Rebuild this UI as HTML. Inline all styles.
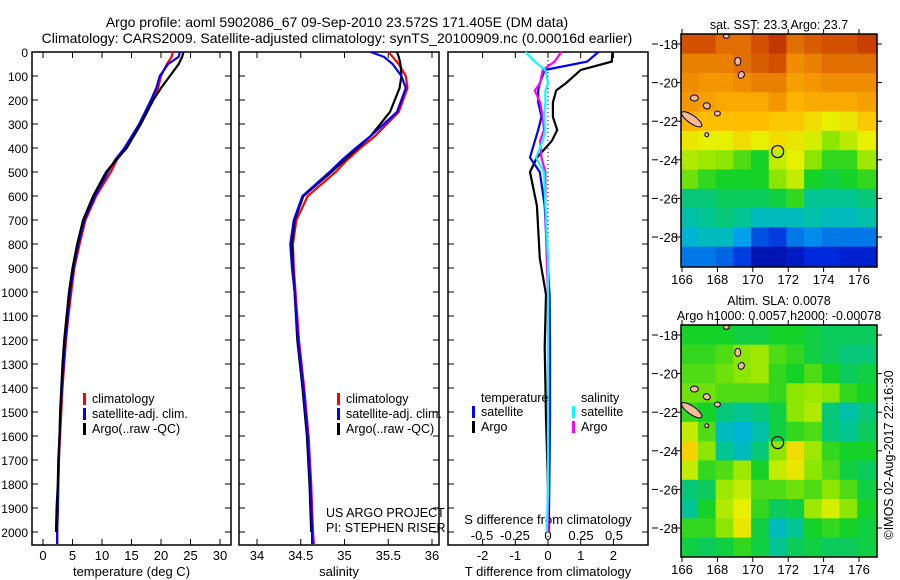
<!DOCTYPE html>
<html><head><meta charset="utf-8">
<style>
html,body{margin:0;padding:0;background:#fff;}
svg{display:block;font-family:"Liberation Sans",sans-serif;}
text{fill:#000;}
</style></head>
<body>
<svg id="chart" width="900" height="580" viewBox="0 0 900 580" xmlns="http://www.w3.org/2000/svg">
<rect width="900" height="580" fill="#fff"/>
<text x="337" y="27" font-size="14" text-anchor="middle">Argo profile: aoml 5902086_67 09-Sep-2010 23.572S 171.405E (DM data)</text>
<text x="337" y="43" font-size="14" text-anchor="middle">Climatology: CARS2009. Satellite-adjusted climatology: synTS_20100909.nc (0.00016d earlier)</text>
<g id="g"></g>
</svg>
<script>
// ---- data ----
const depthT = [0,20,50,100,150,200,300,400,450,500,600,700,800,900,1000,1100,1200,1300,1400,1500,1600,1700,1800,1900,2000,2050];
const tempClim = [22,21.8,21,20,19.5,18.5,16.5,14,12.5,11.5,9,7.2,6.2,5.3,4.8,4.3,3.9,3.6,3.3,3.1,2.9,2.7,2.6,2.5,2.4,2.4];
const tempSat = [23.2,23,21.2,19.8,19.2,18.3,16.3,13.8,12.2,11,8.8,7,6,5.2,4.6,4.2,3.8,3.5,3.2,3,2.8,2.7,2.6,2.5,2.4,2.4];
const tempArgo = [23.8,23.6,23,21.5,20,18.7,16.6,14.2,12.4,10.7,8.5,6.8,5.8,5,4.4,4.0,3.6,3.3,3.1,2.9,2.8,2.6,2.5,2.3,2.2,2.2];
const depthS = [0,20,50,100,150,250,350,400,450,500,600,700,800,900,1000,1200,1400,1600,1800,2000,2050];
const salClim = [35.5,35.55,35.62,35.7,35.72,35.62,35.35,35.18,35.03,34.9,34.58,34.45,34.41,34.42,34.44,34.48,34.54,34.59,34.62,34.64,34.65];
const salSat = [35.3,35.45,35.55,35.65,35.7,35.6,35.3,35.13,34.97,34.83,34.52,34.42,34.38,34.4,34.43,34.47,34.53,34.58,34.61,34.63,34.63];
const salArgo = [35.6,35.62,35.64,35.65,35.63,35.52,35.3,35.15,35.0,34.85,34.53,34.43,34.4,34.41,34.43,34.46,34.52,34.57,34.6,34.62,34.62];
const depthD = [0,40,75,130,160,210,270,325,370,440,500,640,860,1010,1230,1520,1815,2000];
const dTArgo = [1.97,1.95,1.0,0.55,0.25,0.15,0.15,0.28,0.12,-0.34,-0.55,-0.34,-0.25,-0.06,-0.1,-0.06,0,0];
const dTSat = [1.54,1.2,-0.1,-0.25,-0.3,-0.3,-0.2,-0.3,-0.4,-0.55,-0.25,-0.1,-0.02,0.05,0.06,0.06,0.04,0.02];
const dSArgo = [0.1,0.05,-0.04,-0.06,-0.1,-0.06,-0.04,-0.03,-0.06,-0.05,-0.02,-0.02,-0.01,0,0,0,0,0];
const dSSat = [-0.17,-0.1,-0.02,0,-0.02,-0.02,-0.03,-0.02,-0.04,-0.09,-0.03,-0.02,0,0,0,0,0,-0.01];
const depthTicks = [0,100,200,300,400,500,600,700,800,900,1000,1100,1200,1300,1400,1500,1600,1700,1800,1900,2000];
const tempTicks = [0,5,10,15,20,25,30];
const salTicks = [34,34.5,35,35.5,36];
const dTTicks = [-2,-1,0,1,2];
const dSTicks = [-0.5,-0.25,0,0.25,0.5];
const dSLabels = ["-0.5","-0.25","0","0.25","0.5"];
const lonTicks = [166,168,170,172,174,176];
const latTicks = [-18,-20,-22,-24,-26,-28];
const sstGrid = [
[.9,.9,.85,.85,.9,.93,.85,.88,.9,.9,.92],
[.82,.82,.82,.85,.88,.9,.8,.82,.85,.85,.85],
[.8,.78,.78,.8,.82,.82,.76,.78,.8,.8,.8],
[.78,.76,.74,.74,.74,.78,.72,.74,.74,.74,.76],
[.72,.7,.7,.7,.7,.68,.68,.64,.6,.62,.68],
[.62,.6,.6,.64,.6,.64,.62,.58,.5,.55,.6],
[.54,.52,.5,.46,.42,.56,.6,.5,.44,.44,.52],
[.48,.44,.42,.42,.42,.5,.56,.42,.4,.42,.44],
[.36,.36,.38,.38,.38,.4,.44,.34,.34,.34,.36],
[.32,.34,.36,.34,.3,.3,.3,.32,.3,.3,.32],
[.28,.3,.3,.24,.16,.14,.2,.22,.2,.2,.2],
[.2,.2,.18,.14,.06,.06,.08,.12,.12,.1,.1]];
const slaGrid = [
[.42,.42,.42,.4,.4,.42,.42,.4,.38,.38,.38],
[.44,.44,.46,.5,.52,.46,.44,.4,.38,.36,.36],
[.46,.46,.48,.5,.52,.44,.42,.46,.42,.38,.4],
[.48,.48,.46,.46,.46,.44,.5,.52,.5,.44,.42],
[.44,.42,.36,.34,.36,.4,.5,.54,.36,.32,.36],
[.56,.46,.3,.28,.32,.4,.44,.46,.36,.34,.38],
[.66,.5,.34,.3,.36,.5,.64,.52,.44,.42,.42],
[.56,.44,.46,.52,.42,.56,.62,.5,.46,.4,.38],
[.36,.38,.52,.56,.46,.46,.48,.46,.5,.46,.4],
[.34,.42,.54,.6,.44,.38,.4,.52,.58,.5,.42],
[.44,.44,.5,.62,.4,.3,.34,.42,.44,.42,.4],
[.4,.38,.4,.44,.4,.34,.38,.4,.38,.38,.4]];
const argoLon = 171.405, argoLat = -23.572;

// ---- helpers ----
const NS="http://www.w3.org/2000/svg";
const G=document.getElementById('g');
function el(tag,attrs,parent){const e=document.createElementNS(NS,tag);for(const k in attrs)e.setAttribute(k,attrs[k]);(parent||G).appendChild(e);return e;}
function txt(s,x,y,size,anchor,parent){const t=el('text',{x:x,y:y,'font-size':size,'text-anchor':anchor||'middle'},parent);t.textContent=s;return t;}
const yD = d => 52 + d*0.24;
const PT=52,PB=545;
function panel(name,x0,x1,xs,ticks,labels,xlabel){
  const g=el('g',{});
  
  
  const r=el('rect',{x:x0,y:PT,width:x1-x0,height:PB-PT,fill:'none',stroke:'#000','stroke-width':1.5},g);
  
  
  depthTicks.forEach(d=>{el('line',{x1:x0,x2:x0+6,y1:yD(d),y2:yD(d),stroke:'#000'},g);el('line',{x1:x1-6,x2:x1,y1:yD(d),y2:yD(d),stroke:'#000'},g);});
  ticks.forEach((v,i)=>{const x=xs(v);el('line',{x1:x,x2:x,y1:PB,y2:PB-6,stroke:'#000'},g);el('line',{x1:x,x2:x,y1:PT,y2:PT+6,stroke:'#000'},g);
    const t=txt(labels?labels[i]:String(v),x,560,13,'middle',g);
    
    });
  const xl=txt(xlabel,(x0+x1)/2,576,13,'middle',g);
  
  
  return g;
}
function line(name,depths,vals,xs,color,g,w){
  const p=el('polyline',{points:depths.map((d,i)=>xs(vals[i]).toFixed(1)+','+yD(d).toFixed(1)).join(' '),fill:'none',stroke:color,'stroke-width':w||2.2},g);
  
  
}
function legend(items,x,y,g){
  items.forEach((it,i)=>{const yy=y+i*15;el('rect',{x:x,y:yy-10,width:3,height:12,fill:it[1]},g);
    const t=txt(it[0],x+9,yy,12.5,'start',g);
    
    });
}
depthTicks.forEach(d=>{const t=txt(String(d),28,yD(d)+5,12,'end');
  
  });

// ---- panel 1 temperature ----
const xT=v=>43+v*5.9;
const p1=panel('temperature-panel',32,231,xT,tempTicks,null,'temperature (deg C)');
line('temp-climatology',depthT,tempClim,xT,'#f00',p1);
line('temp-satellite-adj',depthT,tempSat,xT,'#00f',p1);
line('temp-argo',depthT.slice(0,25),tempArgo.slice(0,25),xT,'#000',p1);
legend([['climatology','#f00'],['satellite-adj. clim.','#00f'],['Argo(..raw -QC)','#000']],83,403,p1);

// ---- panel 2 salinity ----
const xS=v=>257+(v-34)*87.5;
const p2=panel('salinity-panel',239,439,xS,salTicks,null,'salinity');
line('sal-climatology',depthS,salClim,xS,'#f00',p2);
line('sal-argo',depthS.slice(0,20),salArgo.slice(0,20),xS,'#000',p2);
line('sal-satellite-adj',depthS,salSat,xS,'#00f',p2);
legend([['climatology','#f00'],['satellite-adj. clim.','#00f'],['Argo(..raw -QC)','#000']],337,403,p2);
const c1=txt('US ARGO PROJECT',326,517,12.5,'start',p2);
const c2=txt('PI: STEPHEN RISER',326,532,12.5,'start',p2);

// ---- panel 3 differences ----
const xDT=v=>548+v*32.7;
const xDS=v=>548+v*132;
const p3=panel('difference-panel',448,648,xDT,dTTicks,null,'T difference from climatology');
el('line',{x1:xDT(0),x2:xDT(0),y1:PT,y2:PB,stroke:'#000','stroke-dasharray':'1,3'},p3);
dSTicks.forEach((v,i)=>{const t=txt(dSLabels[i],xDS(v),540,13,'middle',p3);});
const st=txt('S difference from climatology',548,524,13,'middle',p3);
line('dT-argo',depthD,dTArgo,xDT,'#000',p3);
line('dT-satellite',depthD,dTSat,xDT,'#00f',p3);
line('dS-argo',depthD,dSArgo,xDS,'#f0f',p3);
line('dS-satellite',depthD,dSSat,xDS,'#0ff',p3);
const lt=txt('temperature',481,402,12.5,'start',p3);
const ls=txt('salinity',581,402,12.5,'start',p3);
legend([['satellite','#00f'],['Argo','#000']],472,416,p3);
legend([['satellite','#0ff'],['Argo','#f0f']],572,416,p3);

// ---- maps ----
function jet(v){v=Math.max(0,Math.min(1,v));
  const stops=[[0,[0,0,140]],[0.12,[0,40,220]],[0.25,[0,170,240]],[0.33,[0,195,160]],[0.42,[20,210,40]],[0.5,[140,230,0]],[0.6,[230,240,0]],[0.7,[255,190,0]],[0.8,[240,140,0]],[0.9,[210,80,0]],[1,[160,0,0]]];
  for(let i=1;i<stops.length;i++){if(v<=stops[i][0]){const a=stops[i-1],b=stops[i],t=(v-a[0])/(b[0]-a[0]);
    return 'rgb('+a[1].map((c,k)=>Math.round(c+(b[1][k]-c)*t)).join(',')+')';}}
  return 'rgb(160,0,0)';}
function map(name,y0,y1,grid,titles){
  const g=el('g',{});
  
  
  const x0=681,x1=877;
  const xL=lon=>682+(lon-166)*17.7;
  const yL=lat=>(y0+10)+(-18-lat)*19.3;
  grid.forEach((row,ri)=>row.forEach((v,ci)=>{
    const lat=-17.5-ri, lon=166+ci;
    const xa=Math.max(x0,xL(lon-0.1)), xb=Math.min(x1,xL(lon+1-0.1));
    const ya=ri===0?y0:Math.max(y0,yL(lat)), yb=ri===grid.length-1?y1:Math.min(y1,yL(lat-1));
    const xe=ci===row.length-1?x1:xb;
    const c=el('rect',{x:xa,y:ya,width:xe-xa+0.5,height:yb-ya+0.5,fill:jet(v)},g);
    
    
  }));
  const isl=[[166.55,-21.9,12,4,35],[169.15,-18.9,3,4,0],[169.35,-19.6,3,3.5,30],[166.7,-20.8,4,3,0],[167.4,-21.2,3.5,3,20],[168,-21.6,3,2.5,0],[168.5,-17.6,3,2,0],[167.4,-22.7,2,2,0]];
  isl.forEach(s=>{const e=el('ellipse',{cx:xL(s[0]),cy:yL(s[1]),rx:s[2],ry:s[3],fill:'#f5b995',stroke:'#000','stroke-width':1,transform:'rotate('+s[4]+' '+xL(s[0])+' '+yL(s[1])+')'},g);
    });
  const m=el('circle',{cx:xL(argoLon),cy:yL(argoLat),r:6,fill:'none',stroke:'#000','stroke-width':1.2},g);
  
  el('rect',{x:x0,y:y0,width:x1-x0,height:y1-y0,fill:'none',stroke:'#000','stroke-width':1.5},g);
  lonTicks.forEach(l=>{const x=xL(l);el('line',{x1:x,x2:x,y1:y1,y2:y1+5,stroke:'#000'},g);el('line',{x1:x,x2:x,y1:y0,y2:y0-5,stroke:'#000'},g);
    const t=txt(String(l),x,y1+17,13,'middle',g);});
  latTicks.forEach(l=>{const y=yL(l);el('line',{x1:x0-5,x2:x0,y1:y,y2:y,stroke:'#000'},g);el('line',{x1:x1,x2:x1+5,y1:y,y2:y,stroke:'#000'},g);
    el('line',{x1:652,x2:658,y1:y,y2:y,stroke:'#000'},g);
    const t=txt(String(l),678,y+5,13,'end',g);});
  titles.forEach((s,i)=>{const t=txt(s,779,y0-(titles.length-i)*15+10,12.5,'middle',g);});
}
map('sst-map',34,267,sstGrid,['sat. SST: 23.3 Argo: 23.7']);
map('sla-map',325,557,slaGrid,['Altim. SLA: 0.0078','Argo h1000: 0.0057 h2000: -0.00078']);
const cr=txt('©IMOS 02-Aug-2017 22:16:30',0,0,12.5,'middle');
cr.setAttribute('transform','translate(893,455) rotate(-90)');


</script>
</body></html>
